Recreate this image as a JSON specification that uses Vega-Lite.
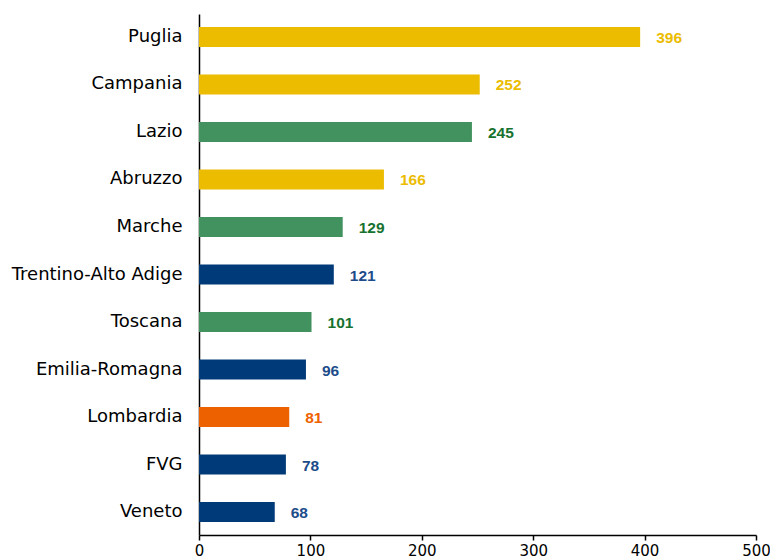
{
  "$schema": "https://vega.github.io/schema/vega-lite/v6.json",
  "autosize": {"type": "none"},
  "padding": {"left": 199, "top": 14, "right": 14, "bottom": 25},
  "width": 557,
  "height": 521,
  "background": "white",
  "data": {
    "values": [
      {"regione": "Puglia", "valore": 396, "gruppo": "giallo"},
      {"regione": "Campania", "valore": 252, "gruppo": "giallo"},
      {"regione": "Lazio", "valore": 245, "gruppo": "verde"},
      {"regione": "Abruzzo", "valore": 166, "gruppo": "giallo"},
      {"regione": "Marche", "valore": 129, "gruppo": "verde"},
      {"regione": "Trentino-Alto Adige", "valore": 121, "gruppo": "blu"},
      {"regione": "Toscana", "valore": 101, "gruppo": "verde"},
      {"regione": "Emilia-Romagna", "valore": 96, "gruppo": "blu"},
      {"regione": "Lombardia", "valore": 81, "gruppo": "arancio"},
      {"regione": "FVG", "valore": 78, "gruppo": "blu"},
      {"regione": "Veneto", "valore": 68, "gruppo": "blu"}
    ]
  },
  "encoding": {
    "y": {
      "field": "regione", "type": "nominal", "sort": null, "title": null,
      "scale": {"paddingInner": 0.58, "paddingOuter": 0.274},
      "axis": {
        "domainColor": "#000000", "domainWidth": 1.5, "ticks": false,
        "labelFont": "DejaVu Sans", "labelFontSize": 18, "labelColor": "#000000",
        "labelPadding": 17
      }
    },
    "x": {
      "field": "valore", "type": "quantitative", "title": null,
      "scale": {"domain": [0, 500], "nice": false},
      "axis": {
        "values": [0, 100, 200, 300, 400, 500], "grid": false,
        "domainColor": "#000000", "domainWidth": 1.5,
        "tickColor": "#000000", "tickSize": 5, "tickWidth": 1.5,
        "labelFont": "DejaVu Sans", "labelFontSize": 15, "labelColor": "#000000",
        "labelPadding": 3, "labelFlush": false
      }
    }
  },
  "layer": [
    {
      "mark": {"type": "bar"},
      "encoding": {
        "color": {
          "field": "gruppo", "type": "nominal", "legend": null,
          "scale": {"domain": ["giallo", "verde", "blu", "arancio"], "range": ["#EBBC00", "#41925E", "#003A78", "#EE6100"]}
        }
      }
    },
    {
      "mark": {"type": "text", "align": "left", "baseline": "middle", "dx": 16, "dy": 1, "font": "Liberation Sans", "fontSize": 15.5, "fontWeight": "bold"},
      "encoding": {
        "text": {"field": "valore", "type": "quantitative"},
        "color": {
          "field": "gruppo", "type": "nominal", "legend": null,
          "scale": {"domain": ["giallo", "verde", "blu", "arancio"], "range": ["#EBBC00", "#17722F", "#1D4C8A", "#EE6100"]}
        }
      }
    }
  ],
  "resolve": {"scale": {"color": "independent"}},
  "config": {"view": {"stroke": null}}
}
